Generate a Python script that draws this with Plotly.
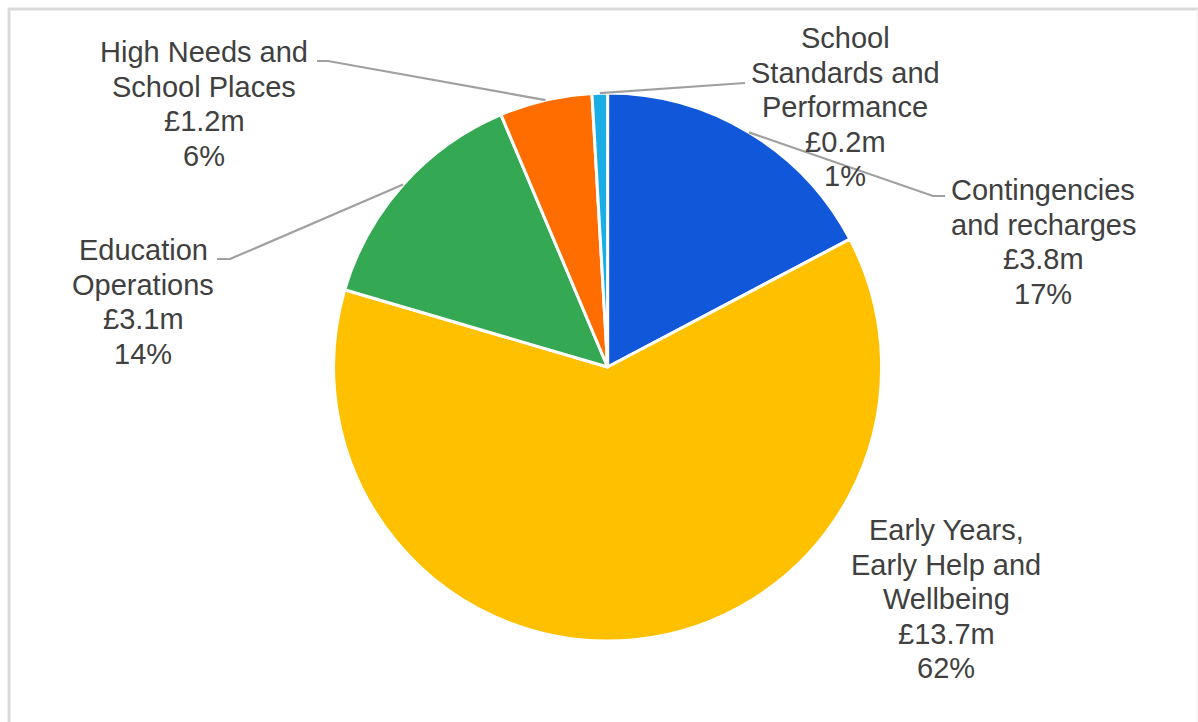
import math
import plotly.graph_objects as go

# Budget split by service area (£m)
categories = [
    "Contingencies and recharges",
    "Early Years, Early Help and Wellbeing",
    "Education Operations",
    "High Needs and School Places",
    "School Standards and Performance",
]
values = [3.8, 13.7, 3.1, 1.2, 0.2]
percent_labels = ["17%", "62%", "14%", "6%", "1%"]
label_lines = [
    ["Contingencies", "and recharges"],
    ["Early Years,", "Early Help and", "Wellbeing"],
    ["Education", "Operations"],
    ["High Needs and", "School Places"],
    ["School", "Standards and", "Performance"],
]
colors = ["#1157D9", "#FFC000", "#34A853", "#FF6D01", "#1AADE6"]

W, H = 1198, 722
CX, CY, R = 607.6, 367.0, 274.0

# label block placement: centre x, first line y
label_pos = [(1043, 190), (946, 530), (143, 250), (204, 52), (845, 38)]
LINE_GAP = 34.6
# leader line path from slice edge to label (None = no leader)
leader_ends = [
    [(933, 196), (945, 196)],
    None,
    [(230, 259), (217, 259)],
    [(328, 61), (317, 61)],
    [(745, 83)],
]

fig = go.Figure()

fig.add_trace(go.Pie(
    labels=categories,
    values=values,
    sort=False,
    direction="clockwise",
    rotation=0,
    marker=dict(colors=colors, line=dict(color="white", width=3)),
    textinfo="none",
    hoverinfo="label+value",
    showlegend=False,
    domain=dict(x=[(CX - R) / W, (CX + R) / W],
                y=[1 - (CY + R) / H, 1 - (CY - R) / H]),
))

# invisible pixel-space axes for overlay lines
fig.add_trace(go.Scatter(x=[0, W], y=[0, H], mode="markers",
                         marker=dict(opacity=0), hoverinfo="skip", showlegend=False))

total = sum(values)
cum = 0.0
shapes = []
annotations = []
font = dict(family="Arial, Liberation Sans, sans-serif", size=29, color="#404040")

for i, v in enumerate(values):
    mid = (cum + v / 2) / total * 2 * math.pi
    cum += v
    sx = CX + R * math.sin(mid)
    sy = CY - R * math.cos(mid)
    if leader_ends[i]:
        pts = [(sx, sy)] + leader_ends[i]
        path = "M " + " L ".join(f"{px:.1f},{py:.1f}" for px, py in pts)
        shapes.append(dict(type="path", path=path, xref="x", yref="y",
                           line=dict(color="#A0A0A0", width=2.2), layer="above"))
    lines = label_lines[i] + [f"£{v:.1f}m", percent_labels[i]]
    lx, ly = label_pos[i]
    for j, t in enumerate(lines):
        annotations.append(dict(x=lx, y=ly + j * LINE_GAP, xref="x", yref="y",
                                text=t, showarrow=False, font=font,
                                xanchor="center", yanchor="middle"))

# outer frame
shapes.append(dict(type="line", x0=8, x1=W, y0=9, y1=9, xref="x", yref="y",
                   line=dict(color="#D9D9D9", width=3), layer="below"))
shapes.append(dict(type="line", x0=9, x1=9, y0=8, y1=H, xref="x", yref="y",
                   line=dict(color="#D9D9D9", width=3), layer="below"))
shapes.append(dict(type="line", x0=1197, x1=1197, y0=9, y1=H, xref="x", yref="y",
                   line=dict(color="#F0F0F0", width=1), layer="below"))

fig.update_layout(
    width=W, height=H,
    margin=dict(l=0, r=0, t=0, b=0),
    paper_bgcolor="white", plot_bgcolor="rgba(0,0,0,0)",
    xaxis=dict(range=[0, W], visible=False, fixedrange=True),
    yaxis=dict(range=[H, 0], visible=False, fixedrange=True),
    shapes=shapes,
    annotations=annotations,
)

fig.write_html("out.html")
